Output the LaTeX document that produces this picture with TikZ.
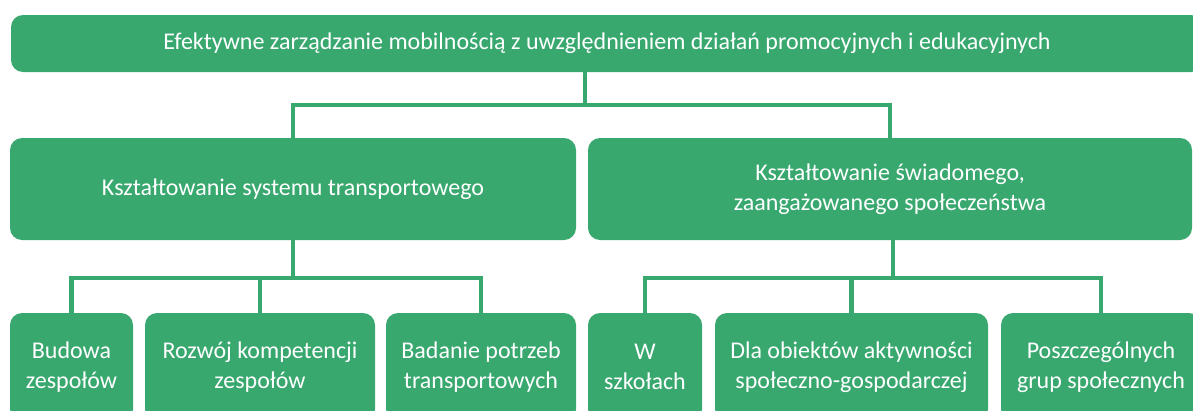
\documentclass[tikz,border=0pt]{standalone}
\usepackage{fontspec}
\setmainfont{Carlito}
\usepackage{tikz}
\definecolor{zielen}{HTML}{38A86F}

\begin{document}
\begin{tikzpicture}[x=1pt,y=-1pt,
		pole/.style={rectangle,rounded corners=12pt,fill=zielen,text=white,inner sep=2pt,align=center,font=\fontsize{24}{30}\selectfont},
		linia/.style={draw=zielen,line width=4.5pt}]
		\useasboundingbox (0,0) rectangle (1193,410);
		\clip (0,0) rectangle (1193,410);
		\node[pole,minimum width=1192pt,minimum height=57pt] (cel) at (607,43.5) {Efektywne zarządzanie mobilnością z uwzględnieniem działań promocyjnych i edukacyjnych};
		\node[pole,minimum width=566pt,minimum height=102pt] (system) at (293,189) {Kształtowanie systemu transportowego};
		\node[pole,minimum width=604pt,minimum height=102pt] (spol) at (890,189) {Kształtowanie świadomego,\\zaangażowanego społeczeństwa};
		\node[pole,minimum width=123pt,minimum height=108pt] (budowa) at (71.5,367) {Budowa\\zespołów};
		\node[pole,minimum width=230pt,minimum height=108pt] (rozwoj) at (260,367) {Rozwój kompetencji\\zespołów};
		\node[pole,minimum width=190pt,minimum height=108pt] (badanie) at (481,367) {Badanie potrzeb\\transportowych};
		\node[pole,minimum width=114pt,minimum height=108pt] (szkoly) at (645,367) {W\\szkołach};
		\node[pole,minimum width=273pt,minimum height=108pt] (obiekty) at (851.5,367) {Dla obiektów aktywności\\społeczno-gospodarczej};
		\node[pole,minimum width=200pt,minimum height=108pt] (grupy) at (1101,367) {Poszczególnych\\grup społecznych};
		\coordinate (w0) at (585,105);
		\coordinate (w1) at (293,278);
		\coordinate (w2) at (893,278);
		\draw[linia] (w0 |- cel.south) -- (w0);
		\draw[linia] (system.north) |- (w0) -| (spol.north);
		\draw[linia] (system.south) -- (w1);
		\draw[linia] (budowa.north) |- (w1) -| (badanie.north);
		\draw[linia] (rozwoj.north) -- (rozwoj.north |- w1);
		\draw[linia] (w2 |- spol.south) -- (w2);
		\draw[linia] (szkoly.north) |- (w2) -| (grupy.north);
		\draw[linia] (obiekty.north) -- (obiekty.north |- w2);
	\end{tikzpicture}
\end{document}
